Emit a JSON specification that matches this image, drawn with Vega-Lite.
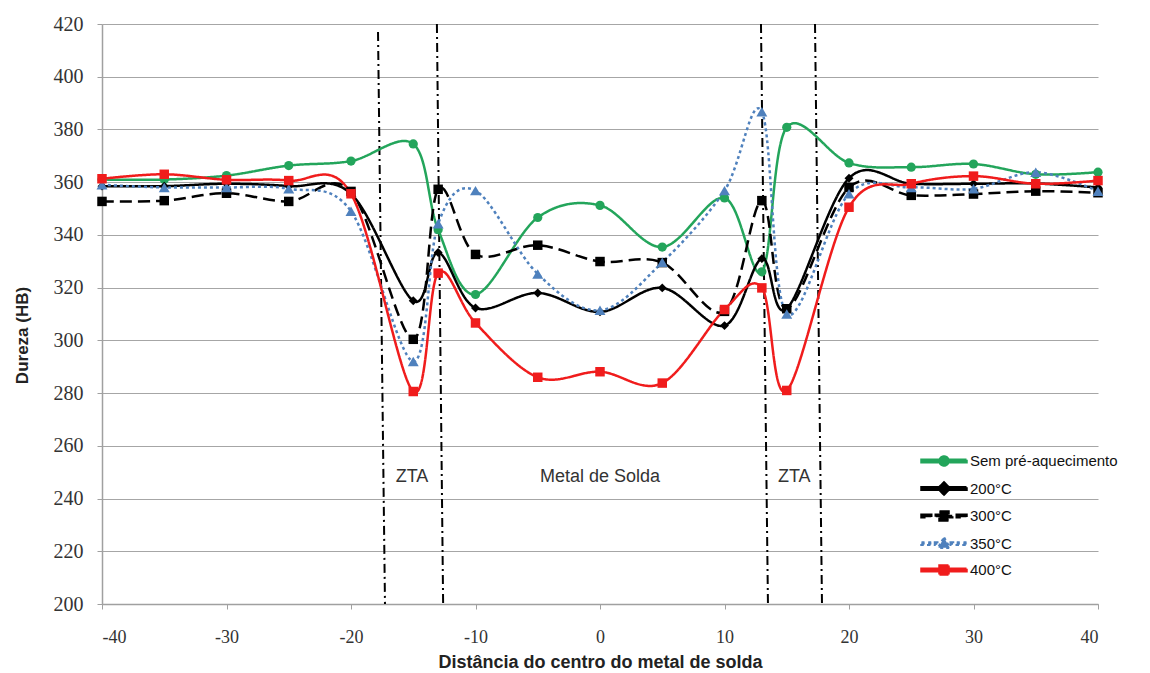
{
  "$schema": "https://vega.github.io/schema/vega-lite/v6.json",
  "autosize": {"type": "none"},
  "width": 996,
  "height": 580,
  "padding": {"left": 102, "top": 24, "right": 52, "bottom": 69},
  "background": "white",
  "config": {"view": {"stroke": null}},
  "datasets": {
    "hardness": [
      {"s": "Sem pré-aquecimento", "x": -40, "y": 361},
      {"s": "Sem pré-aquecimento", "x": -35, "y": 361},
      {"s": "Sem pré-aquecimento", "x": -30, "y": 362.5},
      {"s": "Sem pré-aquecimento", "x": -25, "y": 366.3},
      {"s": "Sem pré-aquecimento", "x": -20, "y": 368},
      {"s": "Sem pré-aquecimento", "x": -15, "y": 374.5},
      {"s": "Sem pré-aquecimento", "x": -13, "y": 342},
      {"s": "Sem pré-aquecimento", "x": -10, "y": 317.4},
      {"s": "Sem pré-aquecimento", "x": -5, "y": 346.6},
      {"s": "Sem pré-aquecimento", "x": 0, "y": 351.2},
      {"s": "Sem pré-aquecimento", "x": 5, "y": 335.4},
      {"s": "Sem pré-aquecimento", "x": 10, "y": 354},
      {"s": "Sem pré-aquecimento", "x": 13, "y": 326},
      {"s": "Sem pré-aquecimento", "x": 15, "y": 380.8},
      {"s": "Sem pré-aquecimento", "x": 20, "y": 367.3},
      {"s": "Sem pré-aquecimento", "x": 25, "y": 365.7},
      {"s": "Sem pré-aquecimento", "x": 30, "y": 366.9},
      {"s": "Sem pré-aquecimento", "x": 35, "y": 363},
      {"s": "Sem pré-aquecimento", "x": 40, "y": 363.8},
      {"s": "200°C", "x": -40, "y": 358.5},
      {"s": "200°C", "x": -35, "y": 358.5},
      {"s": "200°C", "x": -30, "y": 359.4},
      {"s": "200°C", "x": -25, "y": 358.5},
      {"s": "200°C", "x": -20, "y": 355.6},
      {"s": "200°C", "x": -15, "y": 315},
      {"s": "200°C", "x": -13, "y": 333.3},
      {"s": "200°C", "x": -10, "y": 312.3},
      {"s": "200°C", "x": -5, "y": 318},
      {"s": "200°C", "x": 0, "y": 310.8},
      {"s": "200°C", "x": 5, "y": 319.9},
      {"s": "200°C", "x": 10, "y": 305.6},
      {"s": "200°C", "x": 13, "y": 331},
      {"s": "200°C", "x": 15, "y": 312},
      {"s": "200°C", "x": 20, "y": 361.5},
      {"s": "200°C", "x": 25, "y": 359.4},
      {"s": "200°C", "x": 30, "y": 359.4},
      {"s": "200°C", "x": 35, "y": 359.5},
      {"s": "200°C", "x": 40, "y": 358},
      {"s": "300°C", "x": -40, "y": 352.7},
      {"s": "300°C", "x": -35, "y": 353},
      {"s": "300°C", "x": -30, "y": 355.8},
      {"s": "300°C", "x": -25, "y": 352.7},
      {"s": "300°C", "x": -20, "y": 356.5},
      {"s": "300°C", "x": -15, "y": 300.4},
      {"s": "300°C", "x": -13, "y": 357.3},
      {"s": "300°C", "x": -10, "y": 332.6},
      {"s": "300°C", "x": -5, "y": 336.1},
      {"s": "300°C", "x": 0, "y": 329.9},
      {"s": "300°C", "x": 5, "y": 329.5},
      {"s": "300°C", "x": 10, "y": 311},
      {"s": "300°C", "x": 13, "y": 353},
      {"s": "300°C", "x": 15, "y": 312},
      {"s": "300°C", "x": 20, "y": 358},
      {"s": "300°C", "x": 25, "y": 355},
      {"s": "300°C", "x": 30, "y": 355.5},
      {"s": "300°C", "x": 35, "y": 356.6},
      {"s": "300°C", "x": 40, "y": 356},
      {"s": "350°C", "x": -40, "y": 359},
      {"s": "350°C", "x": -35, "y": 358},
      {"s": "350°C", "x": -30, "y": 358},
      {"s": "350°C", "x": -25, "y": 357.5},
      {"s": "350°C", "x": -20, "y": 349},
      {"s": "350°C", "x": -15, "y": 292},
      {"s": "350°C", "x": -13, "y": 344.2},
      {"s": "350°C", "x": -10, "y": 356.8},
      {"s": "350°C", "x": -5, "y": 325.2},
      {"s": "350°C", "x": 0, "y": 311.4},
      {"s": "350°C", "x": 5, "y": 329.6},
      {"s": "350°C", "x": 10, "y": 356.8},
      {"s": "350°C", "x": 13, "y": 386.7},
      {"s": "350°C", "x": 15, "y": 310},
      {"s": "350°C", "x": 20, "y": 355.6},
      {"s": "350°C", "x": 25, "y": 358},
      {"s": "350°C", "x": 30, "y": 357.5},
      {"s": "350°C", "x": 35, "y": 363.8},
      {"s": "350°C", "x": 40, "y": 356.6},
      {"s": "400°C", "x": -40, "y": 361.3},
      {"s": "400°C", "x": -35, "y": 363},
      {"s": "400°C", "x": -30, "y": 360.9},
      {"s": "400°C", "x": -25, "y": 360.6},
      {"s": "400°C", "x": -20, "y": 355.6},
      {"s": "400°C", "x": -15, "y": 280.6},
      {"s": "400°C", "x": -13, "y": 325.5},
      {"s": "400°C", "x": -10, "y": 306.6},
      {"s": "400°C", "x": -5, "y": 286},
      {"s": "400°C", "x": 0, "y": 288.1},
      {"s": "400°C", "x": 5, "y": 283.8},
      {"s": "400°C", "x": 10, "y": 311.7},
      {"s": "400°C", "x": 13, "y": 319.9},
      {"s": "400°C", "x": 15, "y": 281},
      {"s": "400°C", "x": 20, "y": 350.5},
      {"s": "400°C", "x": 25, "y": 359.4},
      {"s": "400°C", "x": 30, "y": 362.3},
      {"s": "400°C", "x": 35, "y": 359.4},
      {"s": "400°C", "x": 40, "y": 360.6}
    ],
    "bounds": [
      {"x": -17.83, "y": 417, "x2": -17.27, "y2": 200},
      {"x": -13.1, "y": 420, "x2": -12.6, "y2": 200},
      {"x": 12.93, "y": 420, "x2": 13.49, "y2": 200},
      {"x": 17.27, "y": 420, "x2": 17.83, "y2": 200}
    ],
    "labels": [
      {"x": -15.1, "y": 248, "t": "ZTA"},
      {"x": 0, "y": 248, "t": "Metal de Solda"},
      {"x": 15.6, "y": 248, "t": "ZTA"}
    ]
  },
  "layer": [
    {
      "data": {"name": "bounds"},
      "mark": {"type": "rule", "color": "#000000", "strokeWidth": 2, "strokeDash": [9, 4, 2, 4]},
      "encoding": {
        "x": {"field": "x", "type": "quantitative", "scale": {"domain": [-40, 40], "nice": false, "zero": false},
          "axis": {"values": [-40, -30, -20, -10, 0, 10, 20, 30, 40], "grid": false, "title": "Distância do centro do metal de solda",
            "labelExpr": "datum.value < 0 ? '-' + abs(datum.value) : '' + datum.value",
            "labelFont": "Liberation Serif", "labelFontSize": 18, "labelColor": "#333333", "labelPadding": 19,
            "tickSize": 5, "tickColor": "#a0a0a0", "domainColor": "#a0a0a0", "domainWidth": 1.5,
            "titleFont": "Liberation Sans", "titleFontSize": 18, "titleFontWeight": "bold", "titleColor": "#222222",
            "titleY": 58, "titleBaseline": "middle"}},
        "x2": {"field": "x2"},
        "y": {"field": "y", "type": "quantitative", "scale": {"domain": [200, 420], "nice": false, "zero": false},
          "axis": {"values": [200, 220, 240, 260, 280, 300, 320, 340, 360, 380, 400, 420], "grid": true, "gridColor": "#a6a6a6", "gridWidth": 1.2,
            "title": "Dureza (HB)", "labelFont": "Liberation Serif", "labelFontSize": 20, "labelColor": "#333333", "labelPadding": 14,
            "tickSize": 5, "tickColor": "#a0a0a0", "domainColor": "#a0a0a0", "domainWidth": 1.5,
            "titleFont": "Liberation Sans", "titleFontSize": 17, "titleFontWeight": "bold", "titleColor": "#222222",
            "titleX": -80, "titleY": 311, "titleBaseline": "middle", "titleAlign": "center", "titleAngle": -90}},
        "y2": {"field": "y2"}
      }
    },
    {
      "data": {"name": "hardness"},
      "mark": {"type": "line", "interpolate": "cardinal"},
      "encoding": {
        "x": {"field": "x", "type": "quantitative"},
        "y": {"field": "y", "type": "quantitative"},
        "color": {"field": "s", "type": "nominal",
          "scale": {"domain": ["Sem pré-aquecimento", "200°C", "300°C", "350°C", "400°C"], "range": ["#23a55b", "#000000", "#000000", "#4f81bd", "#f01c1c"]},
          "legend": {"orient": "none", "legendX": 833, "legendY": 428, "title": null, "padding": 0,
            "labelFont": "Liberation Sans", "labelFontSize": 15, "labelColor": "#111111", "labelOffset": 17,
            "symbolSize": 225, "symbolStrokeWidth": 0, "rowPadding": 6.5,
            "encode": {"symbols": {"update": {
              "shape": {"signal": "datum.value == 'Sem pré-aquecimento' ? 'M-3,-0.17H3V0.17H-3Z M0.6,0A0.6,0.6 0 1 1 -0.6,0A0.6,0.6 0 1 1 0.6,0Z' : datum.value == '200°C' ? 'M-3,-0.17H3V0.17H-3Z M0,-0.8L0.8,0L0,0.8L-0.8,0Z' : datum.value == '300°C' ? 'M-3,-0.17H-1.7V0.17H-3Z M-1.1,-0.17H1.1V0.17H-1.1Z M1.7,-0.17H3V0.17H1.7Z M-0.6,-0.6H0.6V0.6H-0.6Z' : datum.value == '350°C' ? 'M-3,-0.15H-2.6V0.15H-3Z M-2.1,-0.15H-1.7V0.15H-2.1Z M-1.2,-0.15H-0.9V0.15H-1.2Z M0.9,-0.15H1.2V0.15H0.9Z M1.7,-0.15H2.1V0.15H1.7Z M2.6,-0.15H3V0.15H2.6Z M0,-0.8L0.75,0.55H-0.75Z' : 'M-3,-0.17H3V0.17H-3Z M-0.6,-0.6H0.6V0.6H-0.6Z'"}
            }}}}},
        "strokeDash": {"field": "s", "type": "nominal",
          "scale": {"domain": ["Sem pré-aquecimento", "200°C", "300°C", "350°C", "400°C"], "range": [[1, 0], [1, 0], [12, 6], [3, 3], [1, 0]]}, "legend": null},
        "strokeWidth": {"field": "s", "type": "nominal",
          "scale": {"domain": ["Sem pré-aquecimento", "200°C", "300°C", "350°C", "400°C"], "range": [2.5, 2.5, 2.5, 3, 2.5]}, "legend": null}
      }
    },
    {
      "data": {"name": "hardness"},
      "transform": [{"filter": "datum.s == 'Sem pré-aquecimento'"}],
      "mark": {"type": "point", "filled": true, "opacity": 1, "size": 85, "shape": "circle"},
      "encoding": {
        "x": {"field": "x", "type": "quantitative"},
        "y": {"field": "y", "type": "quantitative"},
        "color": {"field": "s", "type": "nominal"}
      }
    },
    {
      "data": {"name": "hardness"},
      "transform": [{"filter": "datum.s == '200°C'"}],
      "mark": {"type": "point", "filled": true, "opacity": 1, "size": 80, "shape": "diamond"},
      "encoding": {
        "x": {"field": "x", "type": "quantitative"},
        "y": {"field": "y", "type": "quantitative"},
        "color": {"field": "s", "type": "nominal"}
      }
    },
    {
      "data": {"name": "hardness"},
      "transform": [{"filter": "datum.s == '300°C'"}],
      "mark": {"type": "point", "filled": true, "opacity": 1, "size": 90, "shape": "square"},
      "encoding": {
        "x": {"field": "x", "type": "quantitative"},
        "y": {"field": "y", "type": "quantitative"},
        "color": {"field": "s", "type": "nominal"}
      }
    },
    {
      "data": {"name": "hardness"},
      "transform": [{"filter": "datum.s == '350°C'"}],
      "mark": {"type": "point", "filled": true, "opacity": 1, "size": 120, "shape": "triangle-up"},
      "encoding": {
        "x": {"field": "x", "type": "quantitative"},
        "y": {"field": "y", "type": "quantitative"},
        "color": {"field": "s", "type": "nominal"}
      }
    },
    {
      "data": {"name": "hardness"},
      "transform": [{"filter": "datum.s == '400°C'"}],
      "mark": {"type": "point", "filled": true, "opacity": 1, "size": 90, "shape": "square"},
      "encoding": {
        "x": {"field": "x", "type": "quantitative"},
        "y": {"field": "y", "type": "quantitative"},
        "color": {"field": "s", "type": "nominal"}
      }
    },
    {
      "data": {"name": "labels"},
      "mark": {"type": "text", "font": "Liberation Sans", "fontSize": 18, "color": "#333333", "align": "center", "baseline": "middle"},
      "encoding": {
        "x": {"field": "x", "type": "quantitative"},
        "y": {"field": "y", "type": "quantitative"},
        "text": {"field": "t"}
      }
    }
  ]
}
